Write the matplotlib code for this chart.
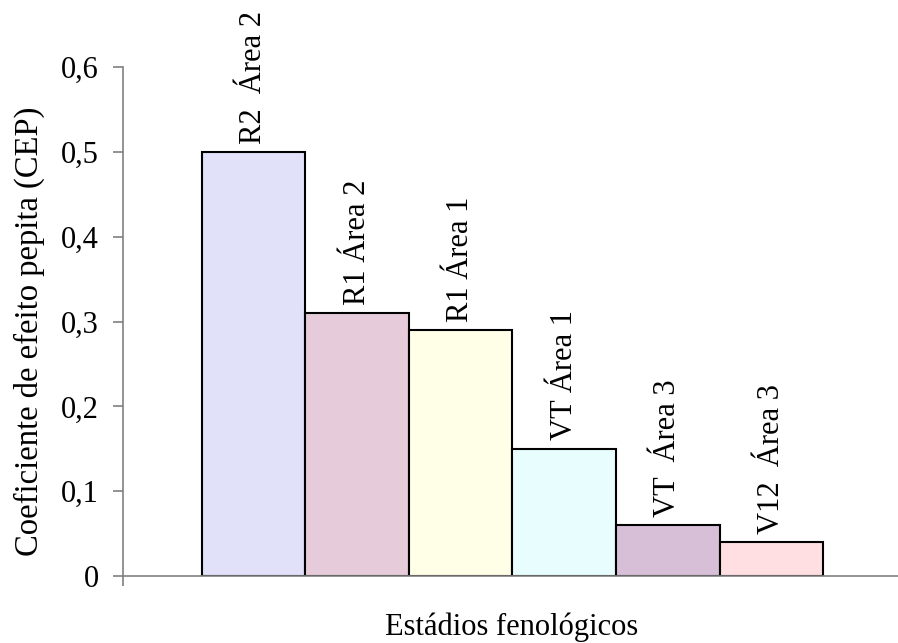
import matplotlib.pyplot as plt

# valores
rotulos = ["R2  Área 2", "R1 Área 2", "R1 Área 1", "VT Área 1", "VT  Área 3", "V12  Área 3"]
cep = [0.50, 0.31, 0.29, 0.15, 0.06, 0.04]
cores = ["#E1E1FA", "#E6CCDA", "#FFFFE8", "#E8FEFE", "#D8BFD8", "#FFDFE1"]
yticks = [0, 0.1, 0.2, 0.3, 0.4, 0.5, 0.6]
ytick_labels = ["0", "0,1", "0,2", "0,3", "0,4", "0,5", "0,6"]

plt.rcParams['font.family'] = ['Liberation Serif', 'DejaVu Serif']
fs = 22

fig = plt.figure(figsize=(8.98, 6.43), dpi=100)
ax = fig.add_axes([123/898, 1 - 576/643, 1 - 123/898, (576 - 67)/643])

x = list(range(len(cep)))
ax.bar(x, cep, width=1.0, color=cores, edgecolor="black", linewidth=1.5, zorder=3)

for i in x:
    ax.annotate(rotulos[i], (i, cep[i]), xytext=(0, 6), textcoords="offset points",
                rotation=90, ha="center", va="bottom", fontsize=fs)

xmin = -0.5 - 79/103.67
ax.set_xlim(xmin, 5.5 + 75/103.67)
ax.set_ylim(0, 0.6)
ax.set_yticks(yticks)
ax.set_yticklabels(ytick_labels, fontsize=fs)
ax.set_xticks([xmin])
ax.set_xticklabels([""])
ax.tick_params(axis="both", direction="out", length=7.5, width=1.2, color="#808080")
ax.tick_params(axis="y", pad=10)

for s in ["top", "right"]:
    ax.spines[s].set_visible(False)
for s in ["left", "bottom"]:
    ax.spines[s].set_color("#808080")
    ax.spines[s].set_linewidth(1.2)
ax.spines["bottom"].set_zorder(4)

fig.text(512/898, 1 - 635/643, "Estádios fenológicos", ha="center", va="baseline", fontsize=fs)
fig.text(29/898, 1 - 331/643, "Coeficiente de efeito pepita (CEP)", rotation=90,
         ha="center", va="center", fontsize=23.5)

fig.savefig("out.png", dpi=100)
